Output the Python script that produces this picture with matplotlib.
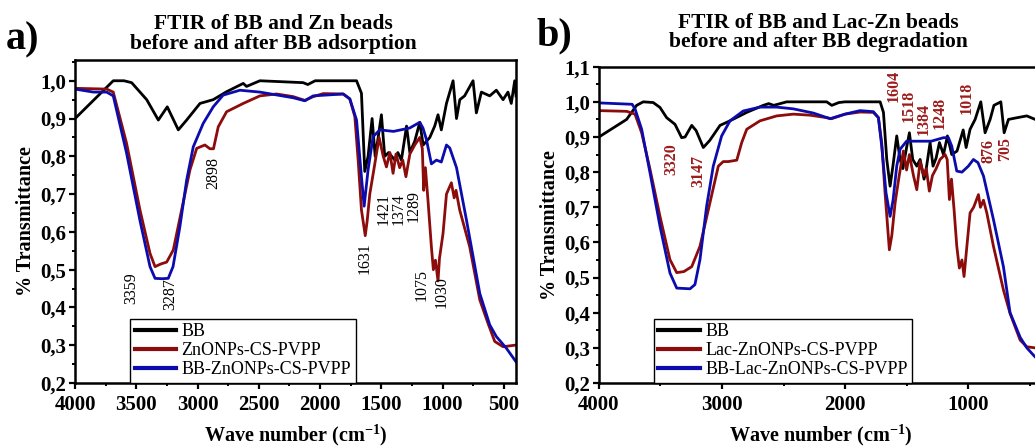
import matplotlib
matplotlib.use('Agg')
import matplotlib.pyplot as plt
from matplotlib.ticker import MultipleLocator, FuncFormatter

plt.rcParams['font.family'] = ['Liberation Serif', 'DejaVu Serif']
plt.rcParams['mathtext.fontset'] = 'custom'
plt.rcParams['mathtext.rm'] = 'Liberation Serif'
plt.rcParams['mathtext.bf'] = 'Liberation Serif:bold'

# ---- panel a) : BB and Zn beads ----
bb_a_wn = [4000, 3688, 3600, 3538, 3415, 3320, 3247, 3157, 3089, 2980, 2872, 2763, 2627, 2600, 2491,
           2138, 2100, 2040, 1702, 1662, 1635, 1608, 1575, 1550, 1530, 1499, 1472, 1440, 1390, 1365,
           1336, 1294, 1267, 1227, 1186, 1158, 1104, 1064, 1037, 1010, 968, 914, 886, 859, 820, 751,
           724, 683, 615, 561, 506, 466, 439, 411, 400]
bb_a_t = [0.90, 1.0, 1.0, 0.995, 0.95, 0.896, 0.931, 0.87, 0.896, 0.94, 0.95, 0.971, 0.993, 0.985, 1.0,
          0.995, 0.99, 1.0, 1.0, 0.967, 0.76, 0.80, 0.90, 0.80, 0.84, 0.91, 0.80, 0.81, 0.79, 0.81,
          0.79, 0.88, 0.81, 0.84, 0.89, 0.83, 0.85, 0.88, 0.91, 0.87, 0.94, 1.0, 0.90, 0.95, 0.96, 1.0,
          0.915, 0.97, 0.96, 0.975, 0.95, 0.97, 0.94, 1.0, 0.96]

zn_wn = [4000, 3742, 3688, 3579, 3470, 3388, 3347, 3300, 3252, 3198, 3130, 3062, 3007, 2940, 2899,
         2870, 2831, 2763, 2627, 2491, 2355, 2219, 2124, 2056, 1974, 1811, 1757, 1716, 1689, 1662,
         1631, 1615, 1594, 1553, 1518, 1484, 1458, 1430, 1404, 1380, 1350, 1325, 1299, 1267, 1227,
         1186, 1165, 1154, 1140, 1119, 1091, 1075, 1058, 1037, 1025, 996, 968, 928, 905, 890, 860,
         778, 696, 629, 574, 506, 411, 400]
zn_t = [0.98, 0.978, 0.97, 0.834, 0.658, 0.543, 0.508, 0.515, 0.52, 0.552, 0.658, 0.764, 0.821, 0.83, 0.82,
        0.82, 0.878, 0.918, 0.94, 0.96, 0.965, 0.958, 0.948, 0.958, 0.966, 0.965, 0.952, 0.905, 0.79, 0.658,
        0.59, 0.63, 0.70, 0.78, 0.85, 0.80, 0.772, 0.81, 0.755, 0.806, 0.77, 0.79, 0.746, 0.806, 0.83,
        0.85, 0.82, 0.71, 0.77, 0.684, 0.56, 0.50, 0.525, 0.47, 0.53, 0.596, 0.70, 0.73, 0.69, 0.71, 0.658,
        0.56, 0.42, 0.358, 0.31, 0.296, 0.30, 0.30]

bbzn_wn = [4000, 3850, 3742, 3688, 3579, 3470, 3388, 3347, 3290, 3239, 3200, 3144, 3089, 3035, 2954,
           2872, 2791, 2654, 2491, 2219, 2124, 2056, 1811, 1757, 1702, 1662, 1640, 1608, 1567, 1512,
           1400, 1268, 1186, 1160, 1132, 1091, 1050, 1010, 968, 941, 886, 804, 696, 615, 561, 479, 411, 400]
bbzn_t = [0.978, 0.97, 0.97, 0.96, 0.808, 0.63, 0.508, 0.477, 0.476, 0.477, 0.508, 0.614, 0.737, 0.825, 0.887,
          0.931, 0.962, 0.975, 0.97, 0.955, 0.947, 0.96, 0.965, 0.952, 0.896, 0.746, 0.668, 0.764, 0.852, 0.87,
          0.866, 0.875, 0.89, 0.875, 0.845, 0.78, 0.79, 0.785, 0.83, 0.822, 0.77, 0.63, 0.437, 0.354, 0.323,
          0.292, 0.261, 0.256]

peaks_a = ['3359', '3287', '2898', '1631', '1421', '1374', '1289', '1075', '1030']
peaks_a_x = [3543, 3225, 2874, 1635, 1480, 1360, 1240, 1172, 1009]
peaks_a_y = [0.451, 0.435, 0.755, 0.53, 0.66, 0.66, 0.668, 0.46, 0.44]

# ---- panel b) : BB and Lac-Zn beads ----
bb_b_wn = [4000, 3775, 3694, 3640, 3559, 3504, 3450, 3382, 3328, 3300, 3246, 3210, 3152, 3100, 3016,
           2935, 2799, 2664, 2620, 2580, 2474, 2149, 2108, 2050, 2000, 1715, 1688, 1661, 1634, 1610,
           1580, 1553, 1530, 1500, 1477, 1450, 1417, 1390, 1358, 1340, 1309, 1285, 1260, 1233, 1200,
           1168, 1133, 1090, 1065, 1040, 1016, 984, 943, 897, 862, 821, 790, 734, 707, 672, 600, 523, 455, 400]
bb_b_t = [0.90, 0.95, 0.99, 1.0, 0.998, 0.984, 0.955, 0.936, 0.898, 0.90, 0.933, 0.918, 0.87, 0.89, 0.933,
          0.946, 0.97, 0.99, 0.995, 0.99, 1.0, 1.0, 0.99, 0.998, 1.0, 1.0, 0.97, 0.836, 0.76, 0.82,
          0.903, 0.836, 0.81, 0.87, 0.912, 0.836, 0.817, 0.836, 0.78, 0.81, 0.884, 0.817, 0.84, 0.884, 0.85,
          0.903, 0.85, 0.86, 0.89, 0.92, 0.87, 0.922, 0.95, 1.0, 0.912, 0.95, 0.99, 1.0, 0.912, 0.95, 0.955,
          0.96, 0.95, 0.955]

lac_wn = [4000, 3775, 3707, 3653, 3585, 3504, 3423, 3368, 3310, 3246, 3179, 3098, 3030, 2990, 2949,
          2880, 2840, 2799, 2691, 2555, 2420, 2284, 2149, 2110, 2000, 1878, 1770, 1729, 1702, 1675,
          1640, 1620, 1593, 1560, 1526, 1500, 1477, 1444, 1417, 1390, 1360, 1340, 1315, 1290, 1260,
          1228, 1187, 1170, 1152, 1135, 1114, 1092, 1071, 1050, 1033, 1010, 984, 955, 916, 900, 875,
          848, 794, 713, 659, 577, 523, 455, 400]
lac_t = [0.975, 0.973, 0.965, 0.912, 0.808, 0.674, 0.551, 0.514, 0.517, 0.531, 0.589, 0.713, 0.817, 0.83, 0.83,
         0.834, 0.884, 0.922, 0.946, 0.96, 0.965, 0.962, 0.955, 0.952, 0.965, 0.971, 0.97, 0.955, 0.884, 0.741,
         0.579, 0.62, 0.713, 0.79, 0.86, 0.806, 0.85, 0.79, 0.75, 0.83, 0.79, 0.81, 0.746, 0.79, 0.81,
         0.836, 0.85, 0.836, 0.722, 0.78, 0.693, 0.589, 0.527, 0.55, 0.503, 0.589, 0.684, 0.70, 0.736, 0.70, 0.72,
         0.684, 0.589, 0.465, 0.398, 0.322, 0.303, 0.30, 0.29]

bblac_wn = [4000, 3730, 3707, 3653, 3585, 3504, 3423, 3368, 3260, 3220, 3179, 3125, 3071, 3003, 2935,
            2827, 2691, 2555, 2420, 2257, 2122, 2000, 1878, 1770, 1729, 1702, 1667, 1634, 1610, 1580,
            1553, 1500, 1400, 1300, 1200, 1160, 1133, 1092, 1050, 998, 957, 920, 875, 794, 713, 659,
            577, 523, 455, 400]
bblac_t = [0.997, 0.993, 0.98, 0.922, 0.798, 0.646, 0.513, 0.47, 0.468, 0.48, 0.551, 0.703, 0.817, 0.903, 0.946,
           0.974, 0.985, 0.985, 0.98, 0.968, 0.952, 0.965, 0.975, 0.972, 0.955, 0.874, 0.741, 0.674, 0.72, 0.817,
           0.865, 0.888, 0.888, 0.888, 0.898, 0.898, 0.874, 0.803, 0.80, 0.817, 0.836, 0.827, 0.789, 0.665, 0.531,
           0.40, 0.33, 0.30, 0.274, 0.26]

peaks_b = ['3320', '3147', '1604', '1518', '1384', '1248', '1018', '876', '705']
peaks_b_x = [3409, 3193, 1607, 1485, 1363, 1228, 1011, 835, 699]
peaks_b_y = [0.836, 0.802, 1.045, 0.988, 0.95, 0.968, 1.01, 0.859, 0.865]

BLACK = '#000000'
RED = '#8c0c0c'
BLUE = '#0c0cae'
ANN_RED = '#9c1c1c'

fig = plt.figure(figsize=(10.35, 4.47), dpi=100)
ax1 = fig.add_axes([0.0725, 0.1432, 0.4261, 0.7226])
ax2 = fig.add_axes([0.5787, 0.1432, 0.4280, 0.7076])

comma = FuncFormatter(lambda v, p: ('%.1f' % v).replace('.', ','))

def style_axis(ax, xmajor, ymax):
    ax.set_xlim(4000, 400)
    ax.set_ylim(0.2, ymax)
    ax.xaxis.set_major_locator(MultipleLocator(xmajor))
    ax.xaxis.set_minor_locator(MultipleLocator(xmajor / 2))
    ax.yaxis.set_major_locator(MultipleLocator(0.1))
    ax.yaxis.set_minor_locator(MultipleLocator(0.05))
    ax.yaxis.set_major_formatter(comma)
    for s in ax.spines.values():
        s.set_linewidth(1.8)
    ax.tick_params(which='major', direction='out', length=4, width=1.6, labelsize=15)
    ax.tick_params(axis='x', which='major', pad=5)
    ax.tick_params(axis='y', which='major', pad=2.5)
    ax.tick_params(which='minor', direction='out', length=2.5, width=1.4)
    for lab in ax.get_xticklabels() + ax.get_yticklabels():
        lab.set_fontweight('bold')
    ax.set_xlabel(r'Wave number (cm$^{\mathbf{-1}}$)', fontsize=14.5, fontweight='bold', labelpad=5)
    ax.set_ylabel('% Transmittance', fontsize=14.5, fontweight='bold', labelpad=3)

# panel a
ax1.plot(bb_a_wn, bb_a_t, color=BLACK, lw=2, label='BB')
ax1.plot(zn_wn, zn_t, color=RED, lw=2, label='ZnONPs-CS-PVPP')
ax1.plot(bbzn_wn, bbzn_t, color=BLUE, lw=2, label='BB-ZnONPs-CS-PVPP')
style_axis(ax1, 500, 1.055)
for lab, x, y in zip(peaks_a, peaks_a_x, peaks_a_y):
    ax1.text(x, y, lab, rotation=90, ha='center', va='center', fontsize=11.5, color='black')
leg1 = ax1.legend(loc='lower left', bbox_to_anchor=(0.125, 0.0), borderaxespad=0, fancybox=False,
                  edgecolor='black', framealpha=1, fontsize=13, handlelength=2.3, handletextpad=0.3,
                  labelspacing=0.12, borderpad=0.25)
leg1.get_frame().set_linewidth(1.0)
for h in leg1.get_lines():
    h.set_linewidth(3)

# panel b
ax2.plot(bb_b_wn, bb_b_t, color=BLACK, lw=2, label='BB')
ax2.plot(lac_wn, lac_t, color=RED, lw=2, label='Lac-ZnONPs-CS-PVPP')
ax2.plot(bblac_wn, bblac_t, color=BLUE, lw=2, label='BB-Lac-ZnONPs-CS-PVPP')
style_axis(ax2, 1000, 1.1)
for lab, x, y in zip(peaks_b, peaks_b_x, peaks_b_y):
    ax2.text(x, y, lab, rotation=90, ha='center', va='center', fontsize=11.5, color=ANN_RED,
             fontweight='bold')
leg2 = ax2.legend(loc='lower left', bbox_to_anchor=(0.124, 0.0), borderaxespad=0, fancybox=False,
                  edgecolor='black', framealpha=1, fontsize=13, handlelength=2.3, handletextpad=0.3,
                  labelspacing=0.12, borderpad=0.25)
leg2.get_frame().set_linewidth(1.0)
for h in leg2.get_lines():
    h.set_linewidth(3)

# titles and panel letters
fig.text(273 / 1035, 1 - 29 / 447, 'FTIR of BB and Zn beads', ha='center', va='baseline',
         fontsize=15.5, fontweight='bold')
fig.text(273 / 1035, 1 - 49 / 447, 'before and after BB adsorption', ha='center', va='baseline',
         fontsize=15.5, fontweight='bold')
fig.text(818 / 1035, 1 - 28 / 447, 'FTIR of BB and Lac-Zn beads', ha='center', va='baseline',
         fontsize=15.5, fontweight='bold')
fig.text(818 / 1035, 1 - 47 / 447, 'before and after BB degradation', ha='center', va='baseline',
         fontsize=15.5, fontweight='bold')
fig.text(6 / 1035, 1 - 49 / 447, 'a)', ha='left', va='baseline', fontsize=29, fontweight='bold')
fig.text(537 / 1035, 1 - 45 / 447, 'b)', ha='left', va='baseline', fontsize=29, fontweight='bold')

fig.savefig('out.png', dpi=100)
